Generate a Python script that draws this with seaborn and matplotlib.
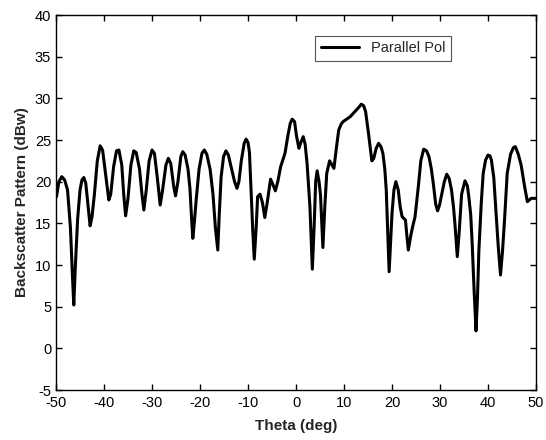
import matplotlib
matplotlib.use("Agg")
import matplotlib.pyplot as plt
import seaborn as sns
import pandas as pd

theta = [-49.9, -49.4, -48.8, -48.2, -47.6, -47.0, -46.6, -46.3, -46.0, -45.5, -45.0, -44.6, -44.2,
         -43.8, -43.3, -42.9, -42.5, -42.0, -41.4, -40.8, -40.3, -39.7, -39.0, -38.6, -38.0, -37.4,
         -36.9, -36.3, -35.9, -35.5, -35.0, -34.4, -33.8, -33.3, -32.6, -32.1, -31.7, -31.2, -30.6,
         -30.0, -29.5, -28.9, -28.3, -27.8, -27.1, -26.6, -26.1, -25.5, -25.1, -24.6, -24.0, -23.6,
         -23.1, -22.5, -22.1, -21.7, -21.5, -21.2, -20.8, -20.2, -19.6, -19.1, -18.6, -17.9, -17.3,
         -16.8, -16.3, -16.0, -15.6, -15.1, -14.6, -14.1, -13.4, -12.8, -12.3, -11.9, -11.4, -10.8,
         -10.4, -10.0, -9.7, -9.4, -9.0, -8.7, -8.3, -8.0, -7.5, -7.0, -6.5, -6.0, -5.3, -4.7, -4.3,
         -3.8, -3.2, -2.3, -1.7, -1.2, -0.8, -0.3, 0.1, 0.6, 1.0, 1.5, 1.9, 2.3, 2.9, 3.4, 3.8, 4.1,
         4.4, 4.8, 5.1, 5.6, 6.0, 6.4, 7.0, 7.5, 7.9, 8.4, 8.9, 9.4, 9.8, 11.3, 12.4, 13.2, 13.6,
         14.1, 14.5, 15.1, 15.8, 16.2, 16.7, 17.2, 17.7, 18.1, 18.5, 18.8, 19.1, 19.4, 20.0, 20.4,
         20.8, 21.3, 21.7, 22.1, 22.8, 23.1, 23.4, 23.9, 24.3, 24.8, 25.5, 26.0, 26.6, 27.2, 27.7,
         28.2, 28.6, 29.1, 29.5, 29.9, 30.4, 30.9, 31.4, 31.9, 32.4, 32.8, 33.1, 33.6, 34.0, 34.5,
         35.2, 35.7, 36.0, 36.4, 36.7, 37.1, 37.5, 37.8, 38.1, 38.6, 39.0, 39.5, 40.0, 40.4, 40.7,
         41.2, 41.6, 42.1, 42.6, 43.0, 43.4, 44.0, 44.7, 45.3, 45.7, 46.3, 46.9, 47.6, 48.2, 49.0,
         49.9]
backscatter = [18.2, 20.0, 20.6, 20.2, 19.0, 14.5, 9.0, 5.2, 9.5, 15.5, 19.0, 20.2, 20.5,
               19.8, 17.0, 14.7, 15.8, 18.5, 22.5, 24.3, 23.8, 21.0, 17.8, 18.5, 21.8, 23.7,
               23.8, 22.0, 18.5, 15.9, 18.0, 22.0, 23.7, 23.5, 21.5, 18.5, 16.6, 19.0, 22.5,
               23.8, 23.4, 20.5, 17.2, 19.0, 22.0, 22.8, 22.2, 19.5, 18.3, 20.0, 23.0, 23.6,
               23.2, 21.5, 19.2, 15.0, 13.2, 15.0, 17.8, 21.5, 23.4, 23.8, 23.3, 21.5, 18.5,
               14.5, 11.8, 16.0, 20.6, 23.0, 23.7, 23.2, 21.5, 20.0, 19.2, 20.0, 22.5, 24.6,
               25.1, 24.7, 23.5, 19.5, 14.0, 10.7, 14.5, 18.2, 18.5, 17.5, 15.7, 17.5, 20.3, 19.5, 18.9,
               20.0, 21.8, 23.4, 25.5, 27.0, 27.5, 27.2, 25.5, 24.0, 24.7, 25.4, 24.5, 22.2, 17.0, 9.5, 15.0, 20.0,
               21.3, 20.0, 18.4, 12.1, 17.0, 21.0, 22.5, 22.0, 21.6, 24.0, 26.2, 26.9, 27.2, 27.8, 28.5, 29.0, 29.3,
               29.1, 28.4, 25.8, 22.5, 22.8, 24.0, 24.6, 24.2, 23.4, 21.5, 19.0, 14.0, 9.2, 16.2, 19.0,
               20.0, 19.0, 17.0, 15.8, 15.4, 13.5, 11.8, 13.5, 14.6, 15.8, 19.5, 22.5, 23.9, 23.7, 23.0,
               21.5, 19.8, 17.3, 16.5, 17.2, 18.6, 20.0, 20.9, 20.4, 19.0, 17.0, 15.0, 11.0, 14.0, 18.5,
               20.1, 19.5, 18.2, 16.0, 12.6, 7.0, 2.1, 6.0, 11.8, 17.5, 21.0, 22.6, 23.2, 23.1, 22.6,
               20.5, 17.0, 12.5, 8.8, 11.5, 15.0, 21.0, 23.3, 24.1, 24.2, 23.3, 22.0, 19.5, 17.6, 18.0,
               18.0]

df = pd.DataFrame({"Theta": theta, "Backscatter": backscatter, "Series": "Parallel Pol"})

sns.set_style("ticks")
plt.rcParams["font.family"] = ["Liberation Sans", "DejaVu Sans"]
plt.rcParams["axes.unicode_minus"] = False

fig = plt.figure(figsize=(5.46, 4.4), dpi=100)
ax = fig.add_axes([0.1026, 0.1136, 0.8791, 0.8523])

sns.lineplot(data=df, x="Theta", y="Backscatter", hue="Series", palette=["black"],
             linewidth=2.2, ax=ax, estimator=None, sort=False)

ax.set_xlim(-50, 50)
ax.set_ylim(-5, 40)
ax.set_xticks(range(-50, 51, 10))
ax.set_yticks(range(-5, 41, 5))
ax.tick_params(direction="in", top=True, right=True, length=4, width=1, labelsize=10.5,
               colors="black")
ax.tick_params(axis="x", pad=4.5)
ax.tick_params(axis="y", pad=3.5)
for s in ax.spines.values():
    s.set_visible(True)
    s.set_linewidth(1.0)
    s.set_color("black")

ax.set_xlabel("Theta (deg)", fontsize=11, fontweight="bold", labelpad=6)
ax.set_ylabel("Backscatter Pattern (dBw)", fontsize=11, fontweight="bold", labelpad=4)

leg = ax.legend(loc="upper left", bbox_to_anchor=(0.54, 0.945), frameon=True, fancybox=False,
                edgecolor="#555555", framealpha=1, borderaxespad=0, fontsize=10.5,
                handlelength=2.6)
leg.get_frame().set_linewidth(0.8)

fig.savefig("out.png", dpi=100)
